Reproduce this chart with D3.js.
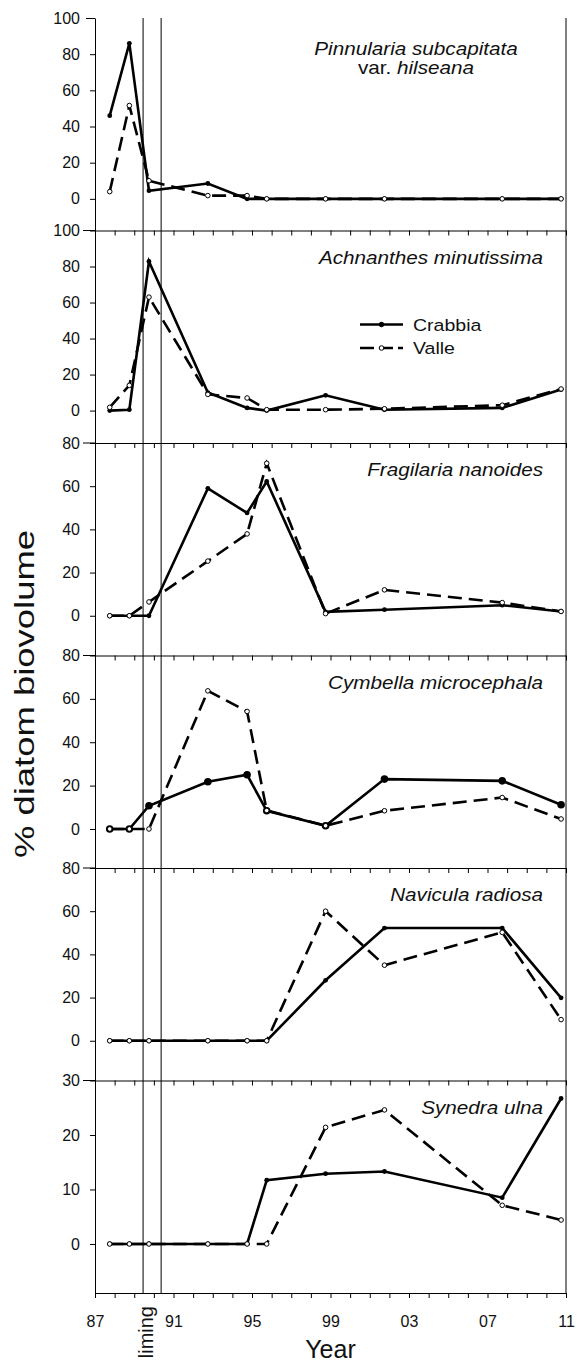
<!DOCTYPE html>
<html>
<head>
<meta charset="utf-8">
<script src="https://cdn.jsdelivr.net/npm/d3@7"></script>
<style>
  body { margin: 0; background: #fff; }
  svg { display: block; font-family: "Liberation Sans", Arial, sans-serif; }
</style>
</head>
<body>
<div id="chart"></div>
<script>
// sampling dates (autumn of each year)
const sampleYears = [1987.75, 1988.75, 1989.75, 1992.75, 1994.75, 1995.75, 1998.75, 2001.75, 2007.75, 2010.75];
const speciesNames = ["Pinnularia subcapitata var. hilseana", "Achnanthes minutissima", "Fragilaria nanoides",
    "Cymbella microcephala", "Navicula radiosa", "Synedra ulna"];
const seriesNames = ["Crabbia", "Valle"];

const crabbia = [
    [46, 86, 4.5, 8.5, 0, 0, 0, 0, 0, 0],
    [0, 0.5, 82.8, 10, 1.5, 0, 8.5, 0.5, 1.5, 11.7],
    [0, 0, 0, 59, 47.6, 62.2, 1.8, 2.8, 4.9, 2],
    [0, 0, 10.7, 21.8, 25, 8.4, 1.5, 23, 22.2, 11.2],
    [0, 0, 0, 0, 0, 0, 28, 52.2, 52.2, 19.9],
    [0, 0, 0, 0, 0, 11.7, 12.9, 13.3, 8.5, 26.7]
];
const valle = [
    [4, 51.6, 10, 1.8, 1.8, 0, 0, 0, 0, 0],
    [1.8, 14, 63, 9, 7, 0.5, 0.5, 1, 3, 12],
    [0, 0, 6.4, 25.3, 37.9, 70.6, 1, 12, 6.1, 2],
    [0, 0, 0, 63.7, 54.2, 8.5, 1.5, 8.4, 14.5, 4.6],
    [0, 0, 0, 0, 0, 0, 60, 35, 50.2, 9.8],
    [0, 0, 0, 0, 0, 0, 21.4, 24.6, 7.1, 4.4]
];

const yDomains = [[-17.5, 100], [-18, 100], [-18.4, 80], [-18, 80], [-18.4, 80], [-9, 30]];
const yTicks = [
    [0, 20, 40, 60, 80, 100],
    [0, 20, 40, 60, 80, 100],
    [0, 20, 40, 60, 80],
    [0, 20, 40, 60, 80],
    [0, 20, 40, 60, 80],
    [0, 10, 20, 30]
];
const yearTicks = d3.range(1987, 2012);
const yearLabels = [1987, 1991, 1995, 1999, 2003, 2007, 2011];
const limingYears = [1989.45, 1990.37];

const width = 579, height = 1363;
const plotLeft = 95, plotRight = 566, plotTop = 18, panelH = 212.5;
const nPanels = speciesNames.length;
const plotBottom = plotTop + nPanels * panelH;

const svg = d3.select('#chart').append('svg')
    .attr('width', width)
    .attr('height', height);

const x = d3.scaleLinear().domain([1987, 2011]).range([plotLeft, plotRight]);

function styleAxis(sel) {
    sel.attr('font-size', 16).attr('font-family', null);
    sel.selectAll('path, line').attr('stroke', '#000');
    sel.selectAll('text').attr('fill', '#111');
}

speciesNames.forEach((name, i) => {
    const y0 = plotTop + i * panelH;
    const y = d3.scaleLinear().domain(yDomains[i]).range([y0 + panelH, y0]);
    const g = svg.append('g');

    // left axis
    const ya = g.append('g')
        .attr('transform', `translate(${plotLeft},0)`)
        .call(d3.axisLeft(y).tickValues(yTicks[i]).tickSize(5).tickSizeOuter(0).tickPadding(10));
    styleAxis(ya);
    if (i === 0) {
        ya.selectAll('.tick line').filter(d => d === 100).attr('x2', -9);
    }

    // bottom axis with yearly ticks
    const xa = g.append('g')
        .attr('transform', `translate(0,${y0 + panelH})`)
        .call(d3.axisBottom(x).tickValues(yearTicks).tickSize(5).tickSizeOuter(0).tickPadding(18)
            .tickFormat(d => (i === nPanels - 1 && yearLabels.includes(d)) ? String(d).slice(2) : ''));
    styleAxis(xa);
    if (i < nPanels - 1) {
        g.append('line')
            .attr('x1', plotLeft - 12).attr('x2', plotLeft)
            .attr('y1', y0 + panelH).attr('y2', y0 + panelH)
            .attr('stroke', '#000');
    }

    const line = d3.line().x(d => x(d[0])).y(d => y(d[1]));
    const cData = d3.zip(sampleYears, crabbia[i]);
    const vData = d3.zip(sampleYears, valle[i]);

    g.append('path').datum(vData)
        .attr('d', line)
        .attr('fill', 'none')
        .attr('stroke', '#000')
        .attr('stroke-width', 2.6)
        .attr('stroke-dasharray', '14,7');

    g.append('path').datum(cData)
        .attr('d', line)
        .attr('fill', 'none')
        .attr('stroke', '#000')
        .attr('stroke-width', 2.6);

    g.selectAll('.cm').data(cData).enter().append('circle')
        .attr('cx', d => x(d[0]))
        .attr('cy', d => y(d[1]))
        .attr('r', i === 3 ? 3.8 : 2.4)
        .attr('fill', '#000');

    g.selectAll('.vm').data(vData).enter().append('circle')
        .attr('cx', d => x(d[0]))
        .attr('cy', d => y(d[1]))
        .attr('r', 2.3)
        .attr('fill', '#fff')
        .attr('stroke', '#000')
        .attr('stroke-width', 1);

    // species label
    if (name.includes(' var. ')) {
        const parts = name.split(' var. ');
        const lg = g.append('g').attr('transform', `translate(416,${y0 + 37}) scale(1.15,1)`);
        lg.append('text')
            .attr('text-anchor', 'middle')
            .attr('font-size', 18)
            .attr('font-style', 'italic')
            .attr('fill', '#111')
            .text(parts[0]);
        const t2 = lg.append('text')
            .attr('y', 19)
            .attr('text-anchor', 'middle')
            .attr('font-size', 18)
            .attr('fill', '#111');
        t2.append('tspan').text('var. ');
        t2.append('tspan').attr('font-style', 'italic').text(parts[1]);
    } else {
        g.append('g').attr('transform', `translate(543,${y0 + 33}) scale(1.15,1)`)
            .append('text')
            .attr('text-anchor', 'end')
            .attr('font-size', 18)
            .attr('font-style', 'italic')
            .attr('fill', '#111')
            .text(name);
    }

    // legend in second panel
    if (i === 1) {
        seriesNames.forEach((s, k) => {
            const ly = y0 + 94 + k * 23.5;
            g.append('line')
                .attr('x1', 360).attr('x2', 403)
                .attr('y1', ly).attr('y2', ly)
                .attr('stroke', '#000')
                .attr('stroke-width', 2.6)
                .attr('stroke-dasharray', k === 1 ? '14,5' : null);
            g.append('circle')
                .attr('cx', 381.5).attr('cy', ly)
                .attr('r', 2.3)
                .attr('fill', k === 0 ? '#000' : '#fff')
                .attr('stroke', '#000')
                .attr('stroke-width', 1);
            g.append('g').attr('transform', `translate(413,${ly + 6}) scale(1.15,1)`)
                .append('text')
                .attr('font-size', 17)
                .attr('fill', '#111')
                .text(s);
        });
    }
});

// right border
svg.append('line')
    .attr('x1', plotRight).attr('x2', plotRight)
    .attr('y1', plotTop).attr('y2', plotBottom)
    .attr('stroke', '#000');

// liming lines
svg.selectAll('.liming').data(limingYears).enter().append('line')
    .attr('x1', d => x(d)).attr('x2', d => x(d))
    .attr('y1', plotTop).attr('y2', plotBottom)
    .attr('stroke', '#000')
    .attr('stroke-width', 1);

const limX = d3.mean(limingYears, d => x(d));
svg.append('text')
    .attr('transform', `translate(${limX + 1},${plotBottom + 13}) rotate(-90)`)
    .attr('text-anchor', 'end')
    .attr('font-size', 20)
    .attr('fill', '#111')
    .text('liming');

svg.append('text')
    .attr('x', (plotLeft + plotRight) / 2)
    .attr('y', 1358)
    .attr('text-anchor', 'middle')
    .attr('font-size', 25)
    .attr('fill', '#111')
    .text('Year');

svg.append('text')
    .attr('transform', `translate(34,694) rotate(-90)`)
    .attr('text-anchor', 'middle')
    .attr('font-size', 28)
    .attr('textLength', 328)
    .attr('lengthAdjust', 'spacingAndGlyphs')
    .attr('fill', '#111')
    .text('% diatom biovolume');
</script>
</body>
</html>
